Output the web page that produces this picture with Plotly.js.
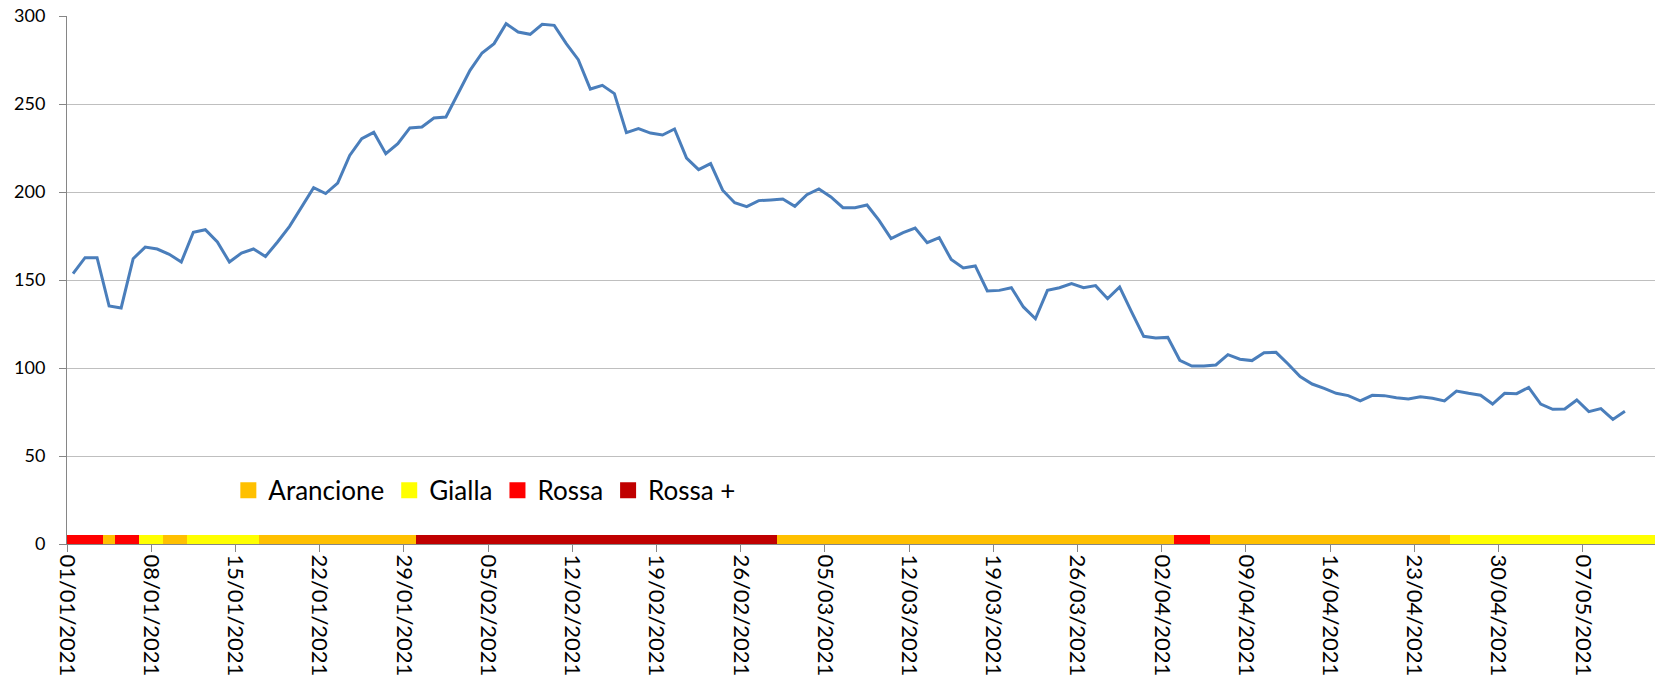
<!DOCTYPE html>
<html>
<head>
<meta charset="utf-8">
<script src="https://cdn.plot.ly/plotly-3.0.1.min.js"></script>
<style>
  html, body { margin: 0; padding: 0; background: #fff; }
  #chart { width: 1660px; height: 682px; }
</style>
</head>
<body>
<div id="chart"></div>
<script>
// ---- data ----
const startDate = '2021-01-01';
const values = [
  153.6, 162.7, 162.7, 135.2, 134.1, 162.1, 168.7, 167.6, 164.6, 160.2,
  177.1, 178.6, 171.6, 160.2, 165.3, 167.6, 163.4, 171.6, 180.5, 191.5,
  202.5, 199.1, 205.1, 220.8, 230.3, 233.9, 221.8, 227.5, 236.4, 236.9,
  242.0, 242.6, 255.5, 269.1, 279.0, 284.3, 295.6, 290.9, 289.6, 295.3,
  294.7, 284.3, 275.2, 258.5, 260.6, 255.9, 233.7, 236.0, 233.5, 232.4,
  235.8, 219.3, 212.7, 216.1, 201.0, 193.9, 191.7, 195.1, 195.5, 196.0,
  191.9, 198.5, 201.7, 197.2, 191.1, 191.1, 192.6, 183.9, 173.5, 176.9,
  179.5, 171.2, 174.1, 161.6, 156.8, 158.0, 143.8, 144.1, 145.6, 134.7,
  128.0, 144.1, 145.6, 147.9, 145.6, 146.8, 139.4, 146.0, 131.8, 118.0,
  117.0, 117.4, 104.4, 101.1, 101.1, 101.7, 107.6, 105.0, 104.2, 108.7,
  108.9, 102.3, 95.1, 90.9, 88.4, 85.6, 84.3, 81.3, 84.5, 84.3,
  83.1, 82.4, 83.7, 82.8, 81.3, 86.9, 85.6, 84.5, 79.5, 85.6,
  85.4, 89.0, 79.5, 76.5, 76.7, 81.8, 75.2, 76.9, 70.8, 75.4
];
const zoneNames = ['Arancione', 'Gialla', 'Rossa', 'Rossa +'];
const zoneColors = ['#FFC000', '#FFFF00', '#FF0000', '#C00000'];
const zoneChangeDates = ['2021-01-01', '2021-01-04', '2021-01-05', '2021-01-07', '2021-01-09', '2021-01-11',
                         '2021-01-17', '2021-01-30', '2021-03-01', '2021-04-03', '2021-04-06', '2021-04-26'];
const zoneChangeNames = ['Rossa', 'Arancione', 'Rossa', 'Gialla', 'Arancione', 'Gialla',
                         'Arancione', 'Rossa +', 'Arancione', 'Rossa', 'Arancione', 'Gialla'];
const zoneEndDate = '2021-05-12';
const bandValue = 5;
const tickLabels = ['01/01/2021', '08/01/2021', '15/01/2021', '22/01/2021', '29/01/2021', '05/02/2021',
                    '12/02/2021', '19/02/2021', '26/02/2021', '05/03/2021', '12/03/2021', '19/03/2021',
                    '26/03/2021', '02/04/2021', '09/04/2021', '16/04/2021', '23/04/2021', '30/04/2021',
                    '07/05/2021'];

// ---- helpers ----
const DAY = 86400000;
function toMs(s) { const p = s.split('-').map(Number); return Date.UTC(p[0], p[1] - 1, p[2]); }
function fmt(ms) {
  const d = new Date(ms);
  const pad = n => String(n).padStart(2, '0');
  return d.getUTCFullYear() + '-' + pad(d.getUTCMonth() + 1) + '-' + pad(d.getUTCDate()) + ' ' +
         pad(d.getUTCHours()) + ':' + pad(d.getUTCMinutes()) + ':00';
}
const startMs = toMs(startDate);
const lineX = values.map((v, i) => fmt(startMs + i * DAY));

// day-by-day zone band
const endMs = toMs(zoneEndDate);
const bandDays = [];
for (let t = startMs; t <= endMs; t += DAY) bandDays.push(t);
function zoneOf(t) {
  let z = null;
  zoneChangeDates.forEach((d, i) => { if (toMs(d) <= t) z = zoneChangeNames[i]; });
  return z;
}
const bandZones = bandDays.map(zoneOf);

const traces = [];
zoneNames.forEach((name, k) => {
  traces.push({
    type: 'bar',
    x: bandDays.map(fmt),
    y: bandZones.map(z => z === name ? bandValue : null),
    width: DAY,
    marker: { color: zoneColors[k], line: { width: 0 } },
    name: name,
    legendgroup: name,
    showlegend: false,
    hoverinfo: 'skip'
  });
});
zoneNames.forEach((name, k) => {
  traces.push({
    type: 'scatter',
    mode: 'markers',
    x: [null], y: [null],
    marker: { symbol: 'square', size: 16, color: zoneColors[k] },
    name: name,
    legendgroup: name,
    showlegend: true
  });
});
traces.push({
  type: 'scatter',
  mode: 'lines',
  x: lineX,
  y: values,
  line: { color: '#4A7EBB', width: 3 },
  showlegend: false,
  name: 'valore'
});

const tickVals = tickLabels.map(l => {
  const p = l.split('/').map(Number);
  return fmt(Date.UTC(p[2], p[1] - 1, p[0]) - DAY / 2);
});

const layout = {
  width: 1660,
  height: 682,
  margin: { l: 67, r: 5, t: 16, b: 138 },
  paper_bgcolor: '#ffffff',
  plot_bgcolor: '#ffffff',
  font: { family: 'Lato, "Open Sans", sans-serif', color: '#000000' },
  barmode: 'overlay',
  bargap: 0,
  showlegend: true,
  legend: {
    orientation: 'h',
    x: 0.1016, xanchor: 'left',
    y: 0.1017, yanchor: 'middle',
    bgcolor: 'rgba(0,0,0,0)',
    font: { size: 26, family: 'Lato, sans-serif', color: '#000000' },
    traceorder: 'normal'
  },
  xaxis: {
    type: 'date',
    range: [fmt(startMs - DAY / 2), fmt(endMs + DAY / 2)],
    tickmode: 'array',
    tickvals: tickVals,
    ticktext: tickLabels,
    tickangle: 90,
    ticks: 'outside',
    ticklen: 7,
    tickcolor: '#868686',
    tickwidth: 1,
    ticklabelstandoff: -2,
    tickfont: { size: 22, family: 'Lato, sans-serif', color: '#000000' },
    showline: true,
    linecolor: '#868686',
    linewidth: 1,
    showgrid: false,
    zeroline: false,
    fixedrange: true
  },
  yaxis: {
    range: [0, 300],
    tickmode: 'linear',
    tick0: 0,
    dtick: 50,
    ticks: 'outside',
    ticklen: 7,
    tickcolor: '#868686',
    tickwidth: 1,
    ticklabelstandoff: 10,
    tickfont: { size: 18, family: 'Lato, sans-serif', color: '#000000' },
    showline: true,
    linecolor: '#868686',
    linewidth: 1,
    showgrid: true,
    gridcolor: '#BFBFBF',
    gridwidth: 1,
    zeroline: false,
    fixedrange: true
  }
};

Plotly.newPlot('chart', traces, layout, { displayModeBar: false, staticPlot: true });
</script>
</body>
</html>
